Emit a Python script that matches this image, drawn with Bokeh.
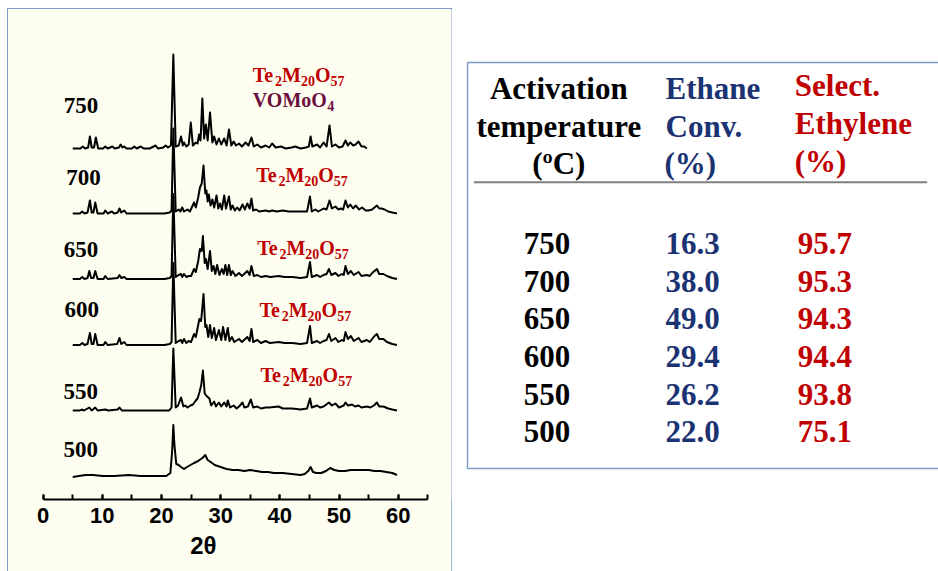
from bokeh.plotting import figure
from bokeh.models import Range1d, LinearAxis, ColumnDataSource, SingleIntervalTicker, FixedTicker
from bokeh.layouts import row
from bokeh.embed import file_html
from bokeh.resources import INLINE
from bokeh.core.properties import value

# ---------------- data ----------------
temps = ["750", "700", "650", "600", "550", "500"]
conv = ["16.3", "38.0", "49.0", "29.4", "26.2", "22.0"]
selec = ["95.7", "95.3", "94.3", "94.4", "93.8", "75.1"]

xrd_750 = [(5.0, 0), (6.3, 0), (6.7, 2), (7.1, 0), (7.6, 1), (7.9, 12), (8.2, 1), (8.6, 1), (8.9, 11), (9.3, 0),
           (10.1, 0), (10.5, 2), (10.9, 0), (11.7, 2), (12.1, 0), (12.8, 1), (13.1, 4), (13.4, 1), (13.7, 2), (14.1, 0),
           (15.0, 0), (15.4, 2), (15.8, 0), (16.5, 2), (17.0, 0), (18.0, 0), (19.0, 3), (19.4, 0), (20.3, 1), (20.7, 3),
           (21.1, 1), (21.6, 3), (22.0, 94), (22.4, 2), (22.9, 3), (23.3, 12), (23.6, 3), (23.8, 6), (24.2, 2), (24.6, 4),
           (24.95, 26), (25.3, 3), (25.8, 6), (26.1, 5), (26.35, 14), (26.6, 8), (26.9, 50), (27.2, 10), (27.5, 24),
           (27.8, 8), (28.2, 36), (28.6, 6), (28.9, 12), (29.3, 4), (29.7, 10), (30.1, 4), (30.6, 10), (31.0, 3),
           (31.4, 19), (31.8, 3), (32.2, 7), (32.6, 3), (33.1, 5), (33.6, 2), (34.2, 6), (34.7, 3), (35.2, 11), (35.6, 2),
           (36.2, 4), (36.8, 1), (37.6, 3), (38.2, 1), (38.7, 5), (39.3, 1), (40.2, 2), (41.0, 0), (42.0, 1), (42.6, 2),
           (43.5, 0), (44.4, 1), (44.9, 2), (45.2, 12), (45.5, 2), (46.3, 4), (46.8, 1), (47.4, 6), (47.9, 2), (48.4, 23),
           (48.8, 2), (49.4, 4), (50.0, 1), (50.6, 2), (51.1, 8), (51.5, 3), (51.9, 6), (52.4, 3), (52.8, 4), (53.3, 7),
           (53.8, 2), (54.3, 2), (54.7, 0)]

xrd_700 = [(5.0, 0), (6.2, 0), (6.6, 2), (7.0, 0), (7.5, 1), (7.9, 13), (8.2, 1), (8.5, 1), (8.8, 11), (9.2, 0),
           (10.2, 0), (10.5, 3), (10.9, 0), (11.6, 2), (12.0, 0), (12.6, 1), (12.9, 5), (13.2, 1), (13.7, 3), (14.1, 0),
           (15.0, 0), (20.5, 0), (21.4, 1), (21.7, 3), (22.0, 85), (22.4, 2), (22.9, 4), (23.2, 2), (23.5, 6), (23.8, 2),
           (24.4, 4), (24.8, 2), (25.5, 11), (25.8, 6), (26.2, 16), (26.5, 26), (26.8, 30), (27.1, 48), (27.4, 20),
           (27.6, 23), (27.8, 12), (28.0, 19), (28.3, 8), (28.6, 14), (28.9, 6), (29.3, 18), (29.6, 5), (29.9, 10),
           (30.2, 4), (30.6, 18), (30.9, 5), (31.4, 17), (31.7, 4), (32.0, 8), (32.4, 3), (32.8, 6), (33.2, 3), (33.7, 9),
           (34.1, 4), (34.5, 10), (34.9, 5), (35.2, 15), (35.5, 3), (36.0, 4), (36.5, 2), (37.6, 3), (38.2, 2), (38.7, 3),
           (39.5, 2), (40.5, 3), (41.5, 2), (42.6, 2), (43.5, 2), (44.6, 2), (45.1, 17), (45.4, 2), (46.0, 4), (46.5, 2),
           (47.4, 5), (47.9, 4), (48.4, 13), (48.8, 5), (49.4, 7), (49.9, 4), (50.3, 5), (50.7, 4), (51.1, 13), (51.5, 6),
           (51.9, 9), (52.4, 5), (52.8, 8), (53.4, 4), (53.9, 6), (54.5, 3), (55.0, 3), (55.6, 4), (56.0, 6), (56.4, 8),
           (56.8, 5), (57.2, 5), (57.7, 4), (58.3, 2), (59.0, 1), (59.8, 0)]

xrd_650 = [(5.0, 0), (6.2, 0), (6.6, 2), (7.0, 0), (7.5, 1), (7.8, 8), (8.1, 1), (8.5, 1), (8.8, 8), (9.2, 0),
           (10.2, 0), (10.5, 3), (10.9, 0), (12.6, 1), (12.9, 4), (13.2, 1), (13.7, 2), (14.1, 0), (20.5, 0), (21.4, 1),
           (21.7, 3), (22.0, 85), (22.4, 2), (22.9, 4), (23.3, 5), (23.5, 2), (23.8, 5), (24.2, 2), (24.6, 3), (25.0, 3),
           (25.5, 10), (25.8, 7), (26.2, 18), (26.5, 30), (26.8, 28), (27.0, 43), (27.3, 16), (27.5, 20), (27.8, 10),
           (28.2, 28), (28.5, 8), (28.8, 13), (29.1, 5), (29.4, 14), (29.8, 4), (30.2, 10), (30.5, 5), (30.8, 14),
           (31.1, 4), (31.4, 14), (31.7, 4), (32.0, 8), (32.5, 3), (33.1, 6), (33.6, 3), (34.5, 8), (34.9, 4), (35.2, 13),
           (35.6, 3), (36.2, 4), (36.8, 2), (37.6, 3), (38.4, 2), (39.8, 3), (40.8, 2), (42.1, 2), (43.5, 1), (44.6, 2),
           (45.1, 17), (45.4, 2), (46.3, 4), (46.8, 2), (47.4, 4), (47.9, 5), (48.3, 10), (48.7, 4), (49.4, 6), (49.9, 3),
           (50.5, 5), (50.8, 4), (51.1, 13), (51.5, 5), (52.0, 8), (52.5, 4), (53.3, 7), (53.8, 3), (54.7, 4), (55.2, 3),
           (55.6, 6), (56.0, 8), (56.4, 10), (56.8, 5), (57.5, 5), (58.1, 3), (59.0, 1), (59.8, 0)]

xrd_600 = [(5.0, 0), (6.2, 0), (6.6, 2), (7.0, 0), (7.5, 1), (7.9, 12), (8.2, 1), (8.5, 1), (8.8, 11), (9.2, 0),
           (10.2, 0), (10.5, 3), (10.9, 0), (12.5, 1), (12.9, 7), (13.2, 1), (13.7, 3), (14.1, 0), (20.5, 0), (21.4, 1),
           (21.7, 3), (22.0, 82), (22.4, 2), (22.9, 4), (23.3, 5), (23.5, 2), (23.8, 6), (24.2, 2), (24.6, 4), (25.0, 3),
           (25.5, 11), (25.8, 8), (26.2, 20), (26.4, 26), (26.7, 24), (27.1, 51), (27.4, 18), (27.6, 20), (27.9, 8),
           (28.2, 20), (28.5, 7), (28.9, 17), (29.2, 5), (29.7, 15), (30.1, 5), (30.4, 18), (30.8, 5), (31.2, 17),
           (31.5, 4), (31.9, 8), (32.3, 3), (33.1, 6), (33.6, 3), (34.5, 8), (34.9, 4), (35.2, 16), (35.5, 3), (36.2, 5),
           (36.8, 2), (37.6, 4), (38.3, 2), (39.8, 3), (40.8, 2), (42.1, 2), (43.5, 1), (44.6, 2), (45.1, 19), (45.4, 2),
           (46.3, 4), (46.8, 2), (47.4, 4), (47.9, 5), (48.3, 11), (48.7, 4), (49.4, 7), (49.9, 3), (50.5, 5), (50.8, 4),
           (51.1, 13), (51.5, 6), (52.0, 9), (52.5, 4), (53.3, 7), (53.8, 3), (54.7, 5), (55.2, 3), (55.6, 6), (56.0, 9),
           (56.4, 11), (56.8, 6), (57.5, 6), (58.1, 3), (59.0, 1), (59.8, 0)]

xrd_550 = [(5.0, 0), (6.2, 0), (6.5, 1), (6.9, 0), (7.8, 3), (8.2, 0), (8.8, 3), (9.2, 0), (10.5, 1), (11.0, 0),
           (12.6, 1), (12.9, 3), (13.3, 0), (14.5, 0), (21.3, 0), (21.7, 3), (22.0, 62), (22.4, 3), (22.8, 5), (23.3, 13),
           (23.7, 4), (24.0, 5), (24.4, 3), (24.9, 5), (25.3, 6), (25.8, 10), (26.1, 12), (26.4, 18), (26.7, 25),
           (27.0, 40), (27.3, 17), (27.7, 14), (28.1, 12), (28.4, 5), (28.9, 9), (29.2, 4), (29.7, 8), (30.1, 4),
           (30.6, 8), (31.0, 4), (31.2, 10), (31.6, 3), (32.2, 5), (32.7, 2), (33.1, 4), (33.7, 8), (34.0, 3), (34.6, 4),
           (35.1, 11), (35.5, 3), (36.2, 4), (36.8, 2), (37.6, 3), (38.2, 3), (39.8, 4), (40.5, 2), (42.1, 2), (43.5, 1),
           (44.6, 2), (45.1, 12), (45.4, 3), (46.3, 5), (46.8, 3), (47.4, 4), (48.3, 8), (48.8, 5), (49.4, 7), (50.0, 3),
           (50.8, 5), (51.1, 8), (51.5, 5), (52.2, 6), (52.7, 4), (53.3, 5), (53.8, 3), (54.7, 4), (55.3, 3), (55.9, 5),
           (56.4, 8), (56.8, 4), (57.5, 4), (58.3, 2), (59.0, 1), (59.8, 0)]

xrd_500 = [(5.0, -1), (6.0, 0), (7.2, 1), (8.5, 1), (10.0, 0), (12.0, 0), (14.5, 1), (16.5, 0), (19.0, 0), (20.8, 0),
           (21.5, 3), (21.8, 25), (22.0, 51), (22.2, 30), (22.5, 12), (22.9, 11), (23.3, 9), (23.8, 7), (24.3, 9),
           (24.9, 11), (25.5, 13), (26.2, 15), (26.9, 18), (27.4, 21), (27.8, 16), (28.3, 14), (29.0, 11), (30.0, 9),
           (31.0, 7), (32.0, 6), (33.0, 6), (34.0, 5), (35.0, 6), (36.0, 5), (37.0, 4), (38.0, 4), (39.0, 3), (40.5, 3),
           (42.0, 2), (43.5, 1), (44.2, 2), (44.8, 5), (45.2, 9), (45.6, 4), (46.2, 3), (47.0, 3), (47.8, 5), (48.5, 8),
           (49.2, 6), (50.0, 5), (51.0, 5), (52.0, 6), (53.0, 6), (54.0, 6), (55.0, 6), (56.0, 5), (57.0, 5), (58.0, 4),
           (59.0, 3), (59.8, 1)]

patterns = [xrd_750, xrd_700, xrd_650, xrd_600, xrd_550, xrd_500]
offsets = [351, 286, 220.5, 154.5, 89, 23.5]   # vertical stacking of the patterns

# ---------------- style / layout constants ----------------
CREAM = "#FEFEF0"
BORDER = "#7E9CC4"
RED = "#C00000"
NAVY = "#1B3372"
PURPLE = "#6B0F3E"
SERIF = value("Liberation Serif")

PX0, PXU = 42.67, 5.9167           # pixel position of 2θ = 0, pixels per degree


def tx(px):
    return (px - PX0) / PXU


def ty(py):
    return 499 - py


# ---------------- left: XRD patterns ----------------
left = figure(width=443, height=562, x_range=Range1d(tx(8), tx(451)), y_range=Range1d(0, 490),
              output_backend="svg", toolbar_location=None, x_axis_location=None, y_axis_location=None,
              min_border_left=0, min_border_right=0, min_border_top=0, min_border_bottom=72,
              background_fill_color=CREAM, border_fill_color=CREAM, outline_line_color=None)
left.xgrid.visible = False
left.ygrid.visible = False
left.margin = (9, 0, 0, 8)
left.styles = {"outline": "1.5px solid " + BORDER}

ax = LinearAxis(bounds=(0, 65), ticker=SingleIntervalTicker(interval=10, num_minor_ticks=2))
ax.axis_line_width = 2
ax.axis_line_color = "black"
ax.major_tick_in = 5
ax.major_tick_out = 0
ax.minor_tick_in = 5
ax.minor_tick_out = 0
ax.major_tick_line_width = 2
ax.minor_tick_line_width = 2
ax.major_label_standoff = 8
ax.major_label_text_font = "Liberation Sans"
ax.major_label_text_font_style = "bold"
ax.major_label_text_font_size = "22px"
ax.major_label_text_color = "black"
left.add_layout(ax, "below")

# second, bare axis carrying only the axis title; trailing no-break spaces move the
# visible "2θ" left of the frame centre, where it sits in the original
ax2 = LinearAxis(ticker=FixedTicker(ticks=[]), axis_label="2θ" + "\u00a0" * 8)
ax2.axis_line_color = None
ax2.major_tick_line_color = None
ax2.minor_tick_line_color = None
ax2.axis_label_standoff = 6
ax2.axis_label_text_font = "Liberation Sans"
ax2.axis_label_text_font_style = "bold"
ax2.axis_label_text_font_size = "24px"
ax2.axis_label_text_color = "black"
left.add_layout(ax2, "below")

for pts, off in zip(patterns, offsets):
    xs = [p[0] for p in pts]
    ys = [off + p[1] for p in pts]
    left.line(xs, ys, line_color="black", line_width=2, line_join="round")

# temperature labels next to patterns (y = vertical centre)
lab_x = [63.3, 65.7, 63.3, 64, 63, 63]
lab_mid = [105.2, 177.2, 248.9, 308.9, 390.5, 448.9]
left.text(x=[tx(v) for v in lab_x], y=[ty(v) for v in lab_mid], text=temps,
          text_font=SERIF, text_font_style="bold", text_font_size="23px", text_color="black",
          text_align="left", text_baseline="middle")

# phase labels with subscripts
W = {"T": 0.667, "e": 0.444, "M": 0.944, "O": 0.778, "V": 0.722, "o": 0.5,
     "0": 0.5, "2": 0.5, "4": 0.5, "5": 0.5, "7": 0.5}
MAIN, SUB = 20, 14
main_x, main_y, main_t, main_c = [], [], [], []
sub_x, sub_y, sub_t, sub_c = [], [], [], []


def compose(parts, x_px, base_px, color):
    x = x_px
    for txt, is_sub in parts:
        size = SUB if is_sub else MAIN
        if is_sub:
            sub_x.append(tx(x)); sub_y.append(ty(base_px + 4 - 0.34 * SUB)); sub_t.append(txt); sub_c.append(color)
        else:
            main_x.append(tx(x)); main_y.append(ty(base_px - 0.34 * MAIN)); main_t.append(txt); main_c.append(color)
        x += sum(W[c] for c in txt) * size


TE = [("Te", False), ("2", True), ("M", False), ("20", True), ("O", False), ("57", True)]
VO = [("VOMoO", False), ("4", True)]
phase_x = [252.3, 255.7, 256.7, 259, 260]
phase_base = [81.7, 181.5, 254, 316, 381.5]
for px, pb in zip(phase_x, phase_base):
    compose(TE, px, pb, RED)
compose(VO, 252.3, 106.7, PURPLE)

left.text(x=main_x, y=main_y, text=main_t, text_color=main_c, text_font=SERIF, text_font_style="bold",
          text_font_size=f"{MAIN}px", text_align="left", text_baseline="middle")
left.text(x=sub_x, y=sub_y, text=sub_t, text_color=sub_c, text_font=SERIF, text_font_style="bold",
          text_font_size=f"{SUB}px", text_align="left", text_baseline="middle")

# ---------------- right: table ----------------
right = figure(width=487, height=562, x_range=Range1d(451, 938), y_range=Range1d(499, 9),
               output_backend="svg", toolbar_location=None, x_axis_location=None, y_axis_location=None,
               min_border_left=0, min_border_right=0, min_border_top=0, min_border_bottom=72,
               background_fill_color="white", border_fill_color="white", outline_line_color=None)
right.xgrid.visible = False
right.ygrid.visible = False
right.margin = (9, 0, 0, 0)

right.quad(left=[467], right=[950], top=[62], bottom=[468], fill_color="white",
           line_color=BORDER, line_width=1.5)

FS = "31px"
hdr1 = ["Activation", "temperature", "(ºC)"]
hdr2 = ["Ethane", "Conv.", "(%)"]
hdr3 = ["Select.", "Ethylene", " (%)"]
hdr_mid = [87.8, 125.5, 162.8]
hdr3_mid = [85.2, 122.8, 161.2]
right.text(x=[558.3] * 3, y=hdr_mid, text=hdr1, text_color="black", text_font=SERIF,
           text_font_style="bold", text_font_size=FS, text_align="center", text_baseline="middle")
right.text(x=[665, 665, 664], y=hdr_mid, text=hdr2, text_color=NAVY, text_font=SERIF,
           text_font_style="bold", text_font_size=FS, text_align="left", text_baseline="middle")
right.text(x=[794.3, 794.3, 794.3], y=hdr3_mid, text=hdr3, text_color=RED, text_font=SERIF,
           text_font_style="bold", text_font_size=FS, text_align="left", text_baseline="middle")
right.segment(x0=[473.3], y0=[181.7], x1=[926.7], y1=[181.7], line_color="#7F7F7F", line_width=2)

row_y = [242.8 + i * 37.7 for i in range(len(temps))]
src = ColumnDataSource(dict(t=temps, c=conv, s=selec, y=row_y))
right.text(x=523.3, y="y", text="t", source=src, text_color="black", text_font=SERIF,
           text_font_style="bold", text_font_size=FS, text_align="left", text_baseline="middle")
right.text(x=665, y="y", text="c", source=src, text_color=NAVY, text_font=SERIF,
           text_font_style="bold", text_font_size=FS, text_align="left", text_baseline="middle")
right.text(x=797.3, y="y", text="s", source=src, text_color=RED, text_font=SERIF,
           text_font_style="bold", text_font_size=FS, text_align="left", text_baseline="middle")

layout = row(left, right)
open("out.html", "w").write(file_html(layout, INLINE))
